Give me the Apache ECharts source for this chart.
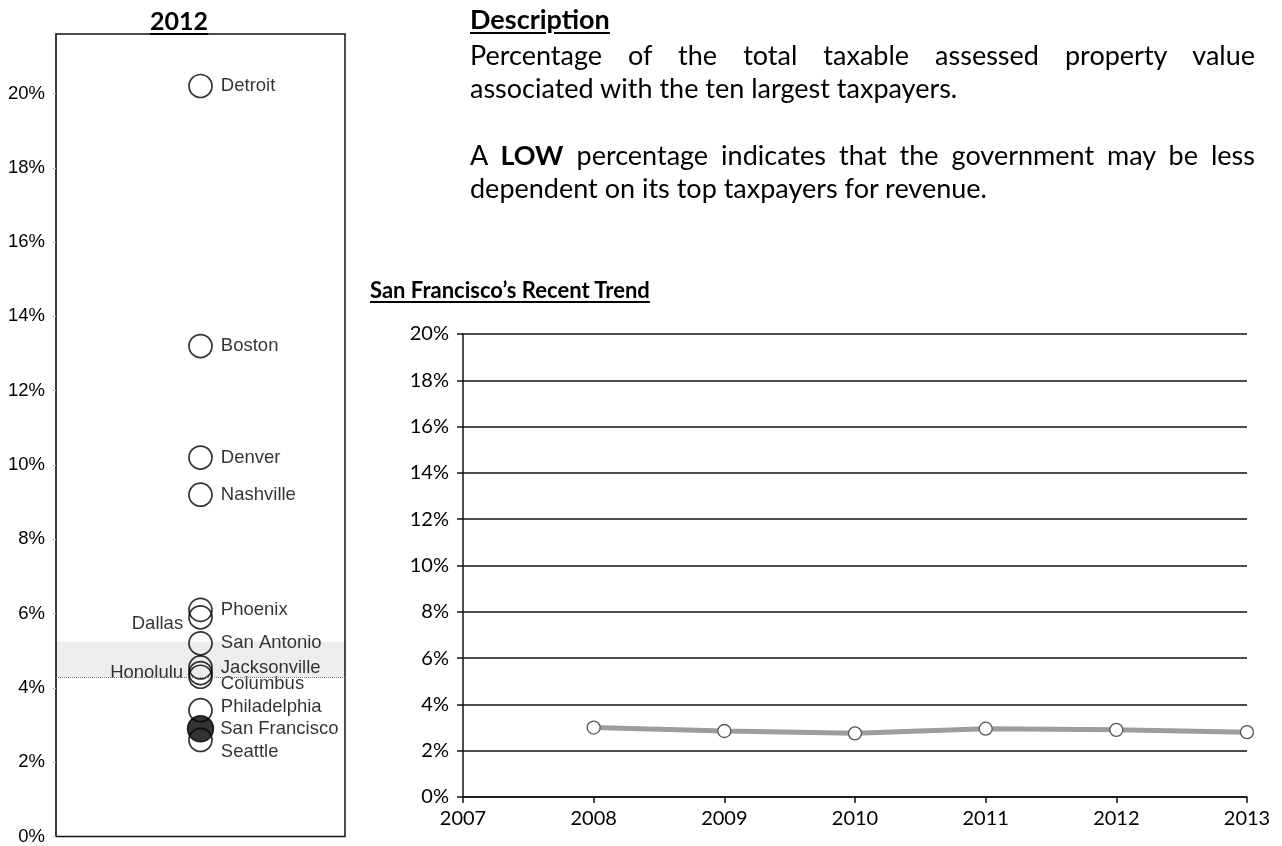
<!DOCTYPE html>
<html>
<head>
<meta charset="utf-8">
<script src="https://cdn.jsdelivr.net/npm/echarts@6/dist/echarts.min.js"></script>
<style>
  html, body { margin: 0; padding: 0; background: #fff; }
  #wrap { position: relative; width: 1282px; height: 846px; overflow: hidden; }
  #chart { position: absolute; left: 0; top: 0; width: 1282px; height: 846px; }
  .txt { position: absolute; font-family: Lato, 'Noto Sans', sans-serif; color: #000; white-space: nowrap; }
  .head { font-weight: bold; text-decoration: underline; text-underline-offset: 3px; }
  .desc { font-size: 27px; line-height: 33px; left: 470px; }
  .just { width: 785px; text-align: justify; text-align-last: justify; white-space: normal; }
</style>
</head>
<body>
<div id="wrap">
  <div id="chart"></div>
  <div class="txt head" style="left:150px; top:4px; font-size:25px; line-height:32px;">2012</div>
  <div class="txt head desc" style="top:2px;">Description</div>
  <div class="txt desc just" style="top:38px;">Percentage of the total taxable assessed property value</div>
  <div class="txt desc" style="top:71px;">associated with the ten largest taxpayers.</div>
  <div class="txt desc just" style="top:138px;">A <b>LOW</b> percentage indicates that the government may be less</div>
  <div class="txt desc" style="top:171px;">dependent on its top taxpayers for revenue.</div>
  <div class="txt head" style="left:370px; top:276px; font-size:22px; line-height:28px;">San Francisco’s Recent Trend</div>
</div>
<script>
// 2012: share of taxable assessed value held by the ten largest taxpayers (%)
const cities = ['Detroit', 'Boston', 'Denver', 'Nashville', 'Phoenix', 'Dallas', 'San Antonio',
                'Jacksonville', 'Honolulu', 'Columbus', 'Philadelphia', 'Seattle', 'San Francisco'];
const shares2012 = [20.2, 13.2, 10.2, 9.2, 6.1, 5.9, 5.2, 4.55, 4.4, 4.3, 3.4, 2.6, 2.9];

// San Francisco over time (%)
const trendYears = [2008, 2009, 2010, 2011, 2012, 2013];
const trendValues = [3.0, 2.85, 2.75, 2.95, 2.9, 2.8];

// Shaded reference band on the 2012 panel (%)
const bandLow = 4.29;
const bandHigh = 5.25;

const highlightCity = 'San Francisco';

// Label placement per city (left side or vertical nudge)
const labelLeft = { 'Dallas': true, 'Honolulu': true };
const labelNudge = { 'Dallas': 7, 'Columbus': 7, 'Philadelphia': -3, 'San Francisco': 0, 'Seattle': 12 };

const arial = "'Liberation Sans', Arial, sans-serif";
const calibri = "Lato, 'Noto Sans', sans-serif";

const scatterData = cities.map((c, i) => {
  const hl = c === highlightCity;
  return {
    name: c,
    value: [0, shares2012[i]],
    symbolSize: hl ? 26 : 23,
    itemStyle: hl
      ? { color: '#000', borderColor: '#000', borderWidth: 1.5 }
      : { color: 'rgba(255,255,255,0)', borderColor: '#000', borderWidth: 1.7 },
    label: {
      show: true,
      formatter: c,
      position: labelLeft[c] ? 'left' : 'right',
      distance: labelLeft[c] ? 5 : (hl ? 6 : 8),
      offset: [0, labelNudge[c] || 0],
      fontFamily: arial,
      fontSize: 18.5,
      color: '#000'
    }
  };
});

const chart = echarts.init(document.getElementById('chart'), null, { renderer: 'canvas' });

chart.setOption({
  animation: false,
  backgroundColor: '#fff',
  grid: [
    { left: 56, top: 34, width: 289, bottom: 2, show: true, borderColor: '#111', borderWidth: 1.5, backgroundColor: 'transparent' },
    { left: 463, top: 334, right: 35, bottom: 49 }
  ],
  xAxis: [
    { gridIndex: 0, type: 'category', data: ['2012'], show: false },
    {
      gridIndex: 1, type: 'value', min: 2007, max: 2013, interval: 1,
      axisLine: { show: true, onZero: false, lineStyle: { color: '#111', width: 1.5 } },
      axisTick: { show: true, length: 6, lineStyle: { color: '#111', width: 1.5 } },
      axisLabel: { fontFamily: calibri, fontSize: 20, color: '#000', margin: 12, formatter: v => String(v) },
      splitLine: { show: false }
    }
  ],
  yAxis: [
    {
      gridIndex: 0, type: 'value', min: 0, max: 21.6, interval: 2,
      axisLine: { show: true, lineStyle: { color: '#333', width: 1.5 } },
      axisTick: { show: true, length: 3, lineStyle: { color: '#bbb', width: 1 } },
      axisLabel: { fontFamily: arial, fontSize: 18.5, color: '#000', margin: 11, showMaxLabel: false, formatter: v => v + '%' },
      splitLine: { show: false }
    },
    {
      gridIndex: 1, type: 'value', min: 0, max: 20, interval: 2,
      axisLine: { show: true, lineStyle: { color: '#111', width: 1.5 } },
      axisTick: { show: true, inside: false, length: 6, lineStyle: { color: '#111', width: 1.5 } },
      axisLabel: { fontFamily: calibri, fontSize: 20, color: '#000', margin: 14, formatter: v => v + '%' },
      splitLine: { show: true, lineStyle: { color: '#111', width: 1.5 } }
    }
  ],
  series: [
    {
      type: 'scatter',
      xAxisIndex: 0, yAxisIndex: 0,
      symbol: 'circle',
      data: scatterData,
      markArea: {
        silent: true,
        itemStyle: { color: 'rgba(0,0,0,0.07)' },
        data: [[{ yAxis: bandLow }, { yAxis: bandHigh }]]
      },
      markLine: {
        silent: true,
        symbol: 'none',
        label: { show: false },
        lineStyle: { color: '#777', type: 'dotted', width: 1 },
        data: [{ yAxis: bandLow }]
      }
    },
    {
      type: 'line',
      xAxisIndex: 1, yAxisIndex: 1,
      data: trendYears.map((y, i) => [y, trendValues[i]]),
      symbol: 'circle',
      symbolSize: 13,
      lineStyle: { color: '#9d9d9d', width: 5 },
      itemStyle: { color: '#fff', borderColor: '#555', borderWidth: 1.3 },
      z: 5
    }
  ]
});
</script>
</body>
</html>
